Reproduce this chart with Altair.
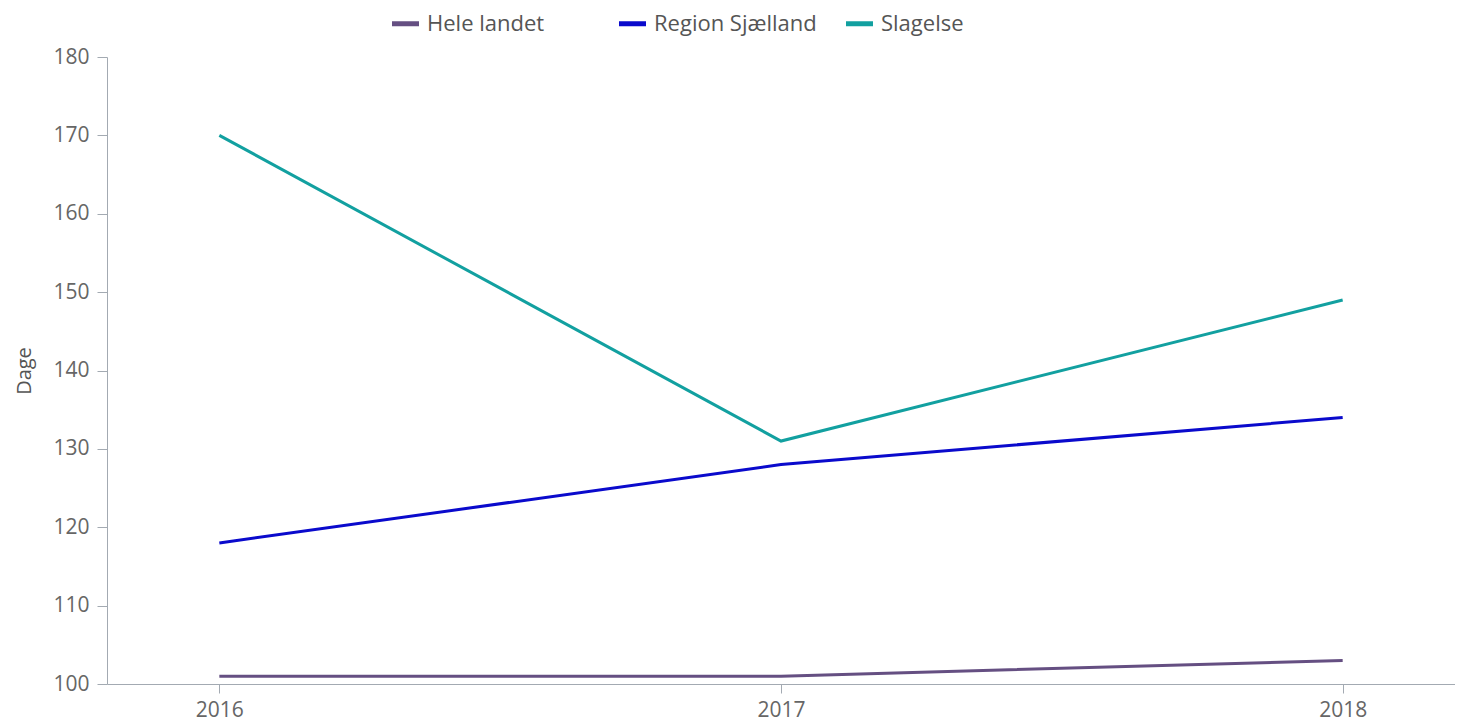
import altair as alt
import pandas as pd

years = ["2016", "2017", "2018"]
series_names = ["Hele landet", "Region Sjælland", "Slagelse"]
hele_landet = [101, 101, 103]
region_sjaelland = [118, 128, 134]
slagelse = [170, 131, 149]
colors = ["#654f82", "#0a0acc", "#12a0a0"]

rows = []
for name, vals in zip(series_names, [hele_landet, region_sjaelland, slagelse]):
    for y, v in zip(years, vals):
        rows.append({"År": y, "Serie": name, "Dage": v})
df = pd.DataFrame(rows)

FONT = "Open Sans"
AXIS_COLOR = "#a3aab2"
TEXT_COLOR = "#666666"

chart = alt.Chart(df).mark_line(strokeWidth=3).encode(
    x=alt.X("År:O", scale=alt.Scale(type="point", padding=0.2),
            axis=alt.Axis(title=None, labelAngle=0, labelFontSize=21, labelColor=TEXT_COLOR,
                          labelFont=FONT, domainColor=AXIS_COLOR, tickColor=AXIS_COLOR,
                          tickSize=9, labelPadding=6, grid=False)),
    y=alt.Y("Dage:Q", scale=alt.Scale(domain=[100, 180], nice=False, zero=False),
            axis=alt.Axis(title="Dage", values=list(range(100, 181, 10)), labelFontSize=21,
                          labelColor=TEXT_COLOR, labelFont=FONT, domainColor=AXIS_COLOR,
                          tickColor=AXIS_COLOR, tickSize=10, labelPadding=8, grid=False,
                          titleFont=FONT, titleFontSize=20, titleFontWeight="normal",
                          titleColor="#555555", titlePadding=18)),
    color=alt.Color("Serie:N", scale=alt.Scale(domain=series_names, range=colors),
                    legend=alt.Legend(title=None, orient="none", legendX=282, legendY=-50,
                                      direction="horizontal", columns=3, gridAlign="all",
                                      symbolType="stroke", symbolStrokeWidth=5, symbolSize=730,
                                      labelFont=FONT, labelFontSize=22, labelColor="#555555",
                                      columnPadding=18, labelOffset=5, labelLimit=300)),
).properties(
    width=1348, height=627,
    padding={"left": 99, "top": 49, "right": 0, "bottom": 38},
    autosize=alt.AutoSizeParams(type="none"),
).configure_view(stroke=None)

chart.save("out.html", embed_options={"renderer": "svg", "actions": False})
